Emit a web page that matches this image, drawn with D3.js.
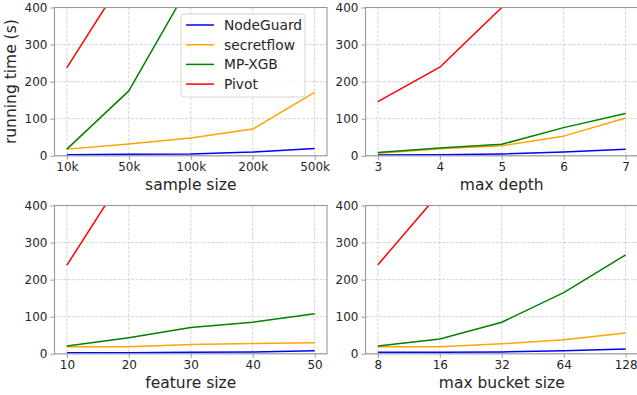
<!DOCTYPE html>
<html>
<head>
<meta charset="utf-8">
<script src="https://cdn.jsdelivr.net/npm/d3@7"></script>
<style>
  body { margin: 0; background: #fff; }
  svg { font-family: "DejaVu Sans", sans-serif; }
</style>
</head>
<body>
<div id="chart"></div>
<script>
// series names + colours
const seriesNames = ['NodeGuard', 'secretflow', 'MP-XGB', 'Pivot'];
const seriesColors = ['#0000ff', '#ffa500', '#008000', '#ff0000'];

// panel 1: sample size
const sampleLabels = ['10k', '50k', '100k', '200k', '500k'];
const sampleNodeGuard = [3, 4, 5, 10, 20];
const sampleSecretflow = [18, 32, 48, 72, 171];
const sampleMPXGB = [18, 175, 467, 950, 2400];
const samplePivot = [238, 500, 900, 1800, 4500];

// panel 2: max depth
const depthLabels = ['3', '4', '5', '6', '7'];
const depthNodeGuard = [2, 3, 5, 10, 18];
const depthSecretflow = [7, 19, 27, 53, 102];
const depthMPXGB = [9, 21, 31, 76, 114];
const depthPivot = [146, 239, 400, 650, 1000];

// panel 3: feature size
const featureLabels = ['10', '20', '30', '40', '50'];
const featureNodeGuard = [3, 3, 4, 5, 8];
const featureSecretflow = [19, 19, 25, 28, 30];
const featureMPXGB = [21, 43, 71, 85, 108];
const featurePivot = [239, 500, 760, 1000, 1250];

// panel 4: max bucket size
const bucketLabels = ['8', '16', '32', '64', '128'];
const bucketNodeGuard = [4, 4, 5, 8, 13];
const bucketSecretflow = [19, 19, 27, 38, 56];
const bucketMPXGB = [21, 40, 85, 165, 267];
const bucketPivot = [240, 435, 800, 1500, 2900];

const yTicks = [0, 100, 200, 300, 400];

const panels = [
  { xlabel: 'sample size', labels: sampleLabels, series: [sampleNodeGuard, sampleSecretflow, sampleMPXGB, samplePivot], left: 54.5, top: 7.5, ylabel: true, legend: true },
  { xlabel: 'max depth', labels: depthLabels, series: [depthNodeGuard, depthSecretflow, depthMPXGB, depthPivot], left: 365.5, top: 7.5 },
  { xlabel: 'feature size', labels: featureLabels, series: [featureNodeGuard, featureSecretflow, featureMPXGB, featurePivot], left: 54.5, top: 205.5 },
  { xlabel: 'max bucket size', labels: bucketLabels, series: [bucketNodeGuard, bucketSecretflow, bucketMPXGB, bucketPivot], left: 365.5, top: 205.5 }
];

const W = 637, H = 395;
const pw = 272.5, ph = 148.3;
const spine = '#999999';
const textColor = '#262626';

const svg = d3.select('#chart').append('svg')
  .attr('width', W)
  .attr('height', H);

panels.forEach((p, pi) => {
  const g = svg.append('g').attr('transform', `translate(${p.left},${p.top})`);

  // categorical x positions, matplotlib-style 5% padding
  const x = d3.scaleLinear().domain([-0.2, p.labels.length - 0.8]).range([0, pw]);
  const y = d3.scaleLinear().domain([0, 400]).range([ph, 0]);

  const clipId = `clip-${pi}`;
  g.append('clipPath').attr('id', clipId)
    .append('rect').attr('width', pw).attr('height', ph);

  // grid
  g.append('g').selectAll('line').data(p.labels.map((d, i) => i)).enter()
    .append('line')
    .attr('x1', d => x(d)).attr('x2', d => x(d))
    .attr('y1', 0).attr('y2', ph)
    .attr('stroke', '#d4d4d4').attr('stroke-width', 1)
    .attr('stroke-dasharray', '3,1.5');
  g.append('g').selectAll('line').data(yTicks).enter()
    .append('line')
    .attr('x1', 0).attr('x2', pw)
    .attr('y1', d => y(d)).attr('y2', d => y(d))
    .attr('stroke', '#d4d4d4').attr('stroke-width', 1)
    .attr('stroke-dasharray', '3,1.5');

  // lines
  const line = d3.line()
    .x((d, i) => x(i))
    .y(d => y(d));
  const lines = g.append('g').attr('clip-path', `url(#${clipId})`);
  p.series.forEach((s, si) => {
    lines.append('path')
      .datum(s)
      .attr('fill', 'none')
      .attr('stroke', seriesColors[si])
      .attr('stroke-width', 1.5)
      .attr('stroke-linejoin', 'round')
      .attr('d', line);
  });

  // frame
  g.append('rect')
    .attr('width', pw).attr('height', ph)
    .attr('fill', 'none')
    .attr('stroke', spine).attr('stroke-width', 1.1);

  // x axis
  const xAxis = g.append('g')
    .attr('transform', `translate(0,${ph})`)
    .call(d3.axisBottom(x)
      .tickValues(p.labels.map((d, i) => i))
      .tickFormat(i => p.labels[i])
      .tickSize(4).tickPadding(3));
  // y axis
  const yAxis = g.append('g')
    .call(d3.axisLeft(y).tickValues(yTicks).tickSize(4).tickPadding(3));

  [xAxis, yAxis].forEach(ax => {
    ax.select('.domain').remove();
    ax.selectAll('.tick line').attr('stroke', spine).attr('stroke-width', 1);
    ax.selectAll('.tick text')
      .attr('fill', textColor)
      .style('font-size', '12px')
      .style('font-family', '"DejaVu Sans", sans-serif');
  });

  g.append('text')
    .attr('x', pw / 2)
    .attr('y', ph + 34.5)
    .attr('text-anchor', 'middle')
    .attr('fill', textColor)
    .style('font-size', '15.5px')
    .text(p.xlabel);

  if (p.ylabel) {
    g.append('text')
      .attr('transform', `translate(${-39},${ph / 2}) rotate(-90)`)
      .attr('text-anchor', 'middle')
      .attr('fill', textColor)
      .style('font-size', '15.5px')
      .text('running time (s)');
  }

  if (p.legend) {
    const lg = g.append('g').attr('transform', `translate(${181 - p.left},${14 - p.top})`);
    lg.append('rect')
      .attr('width', 124).attr('height', 83)
      .attr('rx', 3)
      .attr('fill', 'rgba(255,255,255,0.85)')
      .attr('stroke', '#cccccc').attr('stroke-width', 0.8);
    seriesNames.forEach((name, si) => {
      const ry = 11 + si * 19.7;
      lg.append('line')
        .attr('x1', 5).attr('x2', 33)
        .attr('y1', ry).attr('y2', ry)
        .attr('stroke', seriesColors[si]).attr('stroke-width', 1.5);
      lg.append('text')
        .attr('x', 43).attr('y', ry + 5)
        .attr('fill', textColor)
        .style('font-size', '13.8px')
        .text(name);
    });
  }
});
</script>
</body>
</html>
